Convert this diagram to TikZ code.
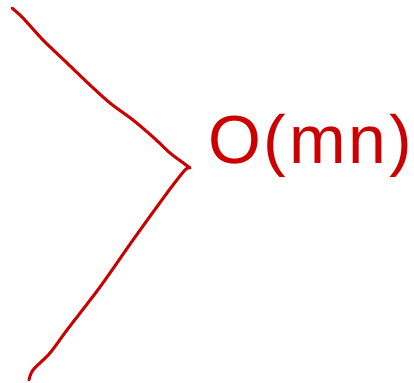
\documentclass[tikz,border=0pt]{standalone}
\usepackage{fontspec}
\setmainfont{Liberation Sans}
\definecolor{inkred}{HTML}{CC0000}

\begin{document}
\begin{tikzpicture}[x=1pt, y=-1pt, pen/.style={draw=inkred, line width=3pt, line cap=round, line join=round}, label/.style={text=inkred, font=\fontsize{68}{68}\selectfont\addfontfeature{LetterSpace=4}, inner sep=0pt}]

\useasboundingbox (0,0) rectangle (414,382);
\draw[pen] plot[smooth, tension=0.5] coordinates {(12,8) (23,18) (43,40) (67,63) (90,85) (110,103) (133,120) (153,137) (170,153) (182,162) (190,168)};
\draw[pen] plot[smooth, tension=0.5] coordinates {(190,168) (185,170) (167,193) (133,240) (100,287) (67,330) (50,353) (33,370) (29,380)};
\node[label] (cost) at (310,146) {O(mn)};

\end{tikzpicture}
\end{document}
